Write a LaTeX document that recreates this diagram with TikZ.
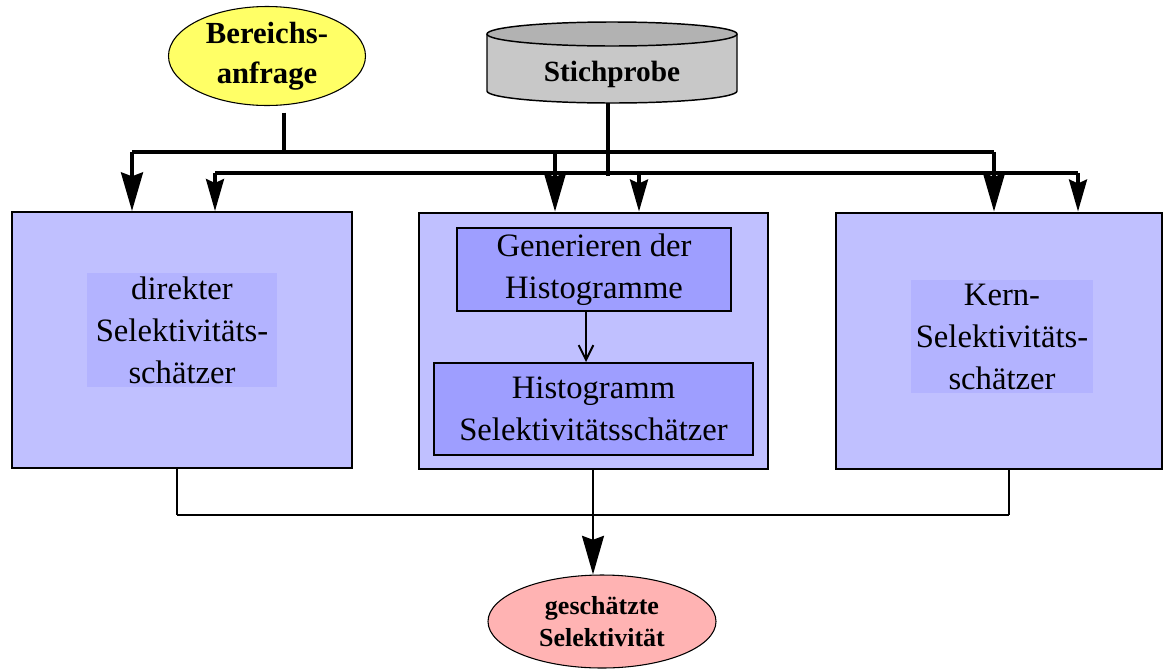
\documentclass[tikz,border=0pt]{standalone}
\usepackage{fontspec}
\setmainfont{Liberation Serif}
\usetikzlibrary{arrows.meta,positioning,shapes.geometric,calc}
\definecolor{SELlavender}{HTML}{C0C0FF}
\definecolor{SELlabel}{HTML}{B3B3FF}
\definecolor{SELinner}{HTML}{9E9EFF}
\definecolor{SELyellow}{HTML}{FFFF66}
\definecolor{SELpink}{HTML}{FFB3B3}
\definecolor{SELgray}{HTML}{C8C8C8}
\definecolor{SELdarkgray}{HTML}{B2B2B2}

\begin{document}
\begin{tikzpicture}[x=0.75pt,y=-0.75pt,
    stage/.style={draw,line width=1.5pt,fill=SELlavender,minimum height=192pt,inner sep=0pt},
    stagetext/.style={fill=SELlabel,align=center,inner sep=0pt,font=\fontsize{24.5}{31.5}\selectfont},
    subbox/.style={draw,line width=1.5pt,fill=SELinner,align=center,inner sep=0pt,font=\fontsize{24.5}{31.5}\selectfont},
    blob/.style={ellipse,draw,line width=0.8pt,align=center,inner sep=0pt},
    bus/.style={line width=2.5pt},
    bigtip/.style={-{Stealth[length=29pt,width=16.5pt,inset=3pt]}},
    smalltip/.style={-{Stealth[length=24pt,width=13.5pt,inset=3pt]}}]
  \useasboundingbox (0,0) rectangle (1163,668);

  % inputs
  \node[blob,fill=SELyellow,minimum width=147.75pt,minimum height=74.25pt,
        font=\fontsize{23}{30}\selectfont\bfseries] (query) at (267,56) {Bereichs-\\anfrage};

  \fill[SELgray] (487,34) -- (487,91) arc[start angle=180,end angle=0,x radius=125,y radius=12] -- (737,34) -- cycle;
  \draw[line width=1.1pt] (487,34) -- (487,91) arc[start angle=180,end angle=0,x radius=125,y radius=12] -- (737,34);
  \filldraw[fill=SELdarkgray,line width=1.1pt] (612,34) ellipse [x radius=125,y radius=12];
  \node[minimum width=187.5pt,minimum height=42.75pt,inner sep=0pt,
        font=\fontsize{22}{26}\selectfont\bfseries] (probe) at (612,74.5) {Stichprobe};

  % estimators
  \node[stage,minimum width=255pt] (direct) at (182,340) {};
  \node[stagetext,minimum width=142.5pt,minimum height=85.5pt] (directtxt) at (182,330)
    {direkter\\Selektivitäts-\\schätzer};

  \node[stage,minimum width=261.75pt] (histo) at (593.5,340.5) {};
  \node[subbox,minimum width=205.5pt,minimum height=62.25pt] (gen) at (594,269.5)
    {Generieren der\\Histogramme};
  \node[subbox,minimum width=239.25pt,minimum height=69pt] (histsel) at (593.5,409)
    {Histogramm\\Selektivitätsschätzer};
  \draw[line width=1.5pt,-{Straight Barb[length=11pt,width=11pt]}] (gen.south -| 586,0) -- (histsel.north -| 586,0);

  \node[stage,minimum width=244.5pt] (kern) at (999,340.5) {};
  \node[stagetext,minimum width=136.5pt,minimum height=84.75pt] (kerntxt) at (1002,336.5)
    {Kern-\\Selektivitäts-\\schätzer};

  % result
  \node[blob,fill=SELpink,minimum width=171pt,minimum height=69.75pt,
        font=\fontsize{19.5}{24}\selectfont\bfseries] (result) at (602,621.5) {geschätzte\\Selektivität};

  % query bus
  \draw[bus] ([yshift=-5pt]query.south -| 284,0) -- (284,152);
  \draw[bus] (132,152) -- (994,152);
  \foreach \x/\n in {132/direct,555/histo,994/kern}
    \draw[bus,bigtip] (\x,152) -- (\n.north -| \x,0);

  % sample bus
  \draw[bus] (probe.south -| 608,0) -- (608,176);
  \draw[bus] (215,173) -- (1078,173);
  \foreach \x/\n in {215/direct,639/histo,1078/kern}
    \draw[bus,smalltip] (\x,173) -- (\n.north -| \x,0);

  % collect
  \foreach \x/\n in {177/direct,1009/kern}
    \draw[line width=1.5pt] (\n.south -| \x,0) -- (\x,515);
  \draw[line width=2.2pt] (177,515) -- (1009,515);
  \draw[line width=1.5pt,bigtip] (histo.south -| 593,0) -- (result.north -| 593,0);
\end{tikzpicture}
\end{document}
